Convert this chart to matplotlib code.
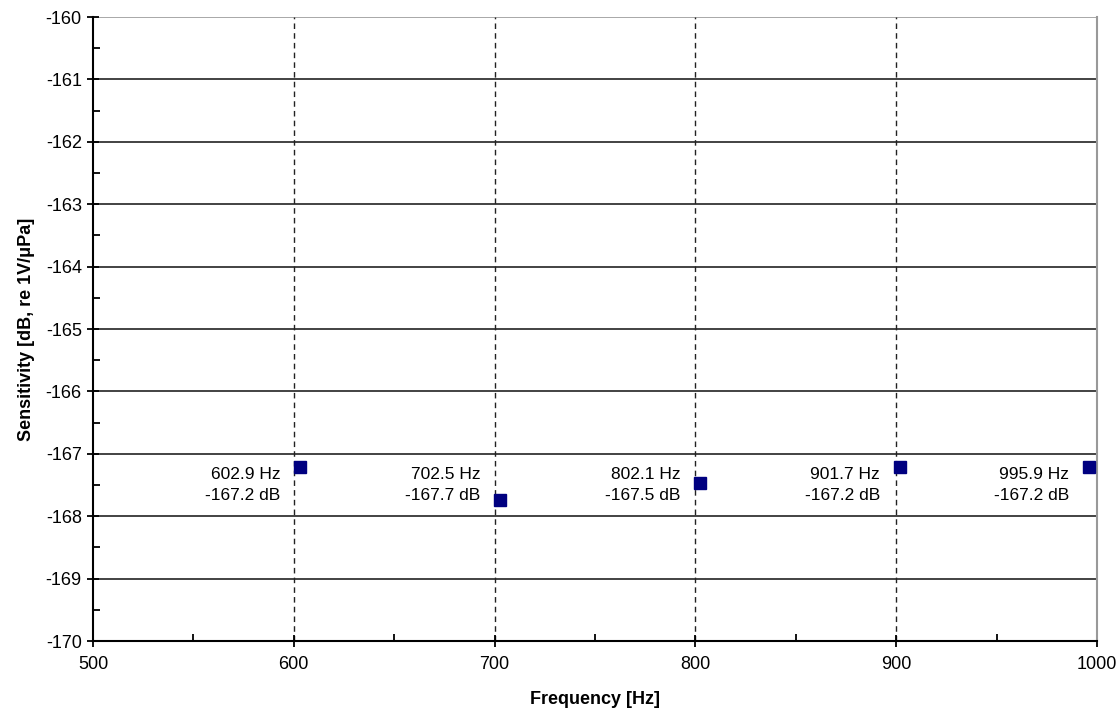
import numpy as np
import matplotlib.pyplot as plt
from matplotlib.ticker import MultipleLocator

plt.rcParams['font.family'] = ['Liberation Sans', 'DejaVu Sans']
plt.rcParams['axes.unicode_minus'] = False

# data
freq = [602.9, 702.5, 802.1, 901.7, 995.9]
sens = [-167.21, -167.74, -167.47, -167.21, -167.21]
freq_lbl = ['602.9 Hz', '702.5 Hz', '802.1 Hz', '901.7 Hz', '995.9 Hz']
sens_lbl = ['-167.2 dB', '-167.7 dB', '-167.5 dB', '-167.2 dB', '-167.2 dB']
vlines = [600, 700, 800, 900]

fig = plt.figure(figsize=(11.2, 7.12), dpi=100)
ax = fig.add_axes([0.083, 0.0997, 0.8965, 0.8763])

ax.set_xlim(500, 1000)
ax.set_ylim(-170, -160)
ax.xaxis.set_major_locator(MultipleLocator(100))
ax.xaxis.set_minor_locator(MultipleLocator(50))
ax.yaxis.set_major_locator(MultipleLocator(1))
ax.yaxis.set_minor_locator(MultipleLocator(0.5))

# horizontal grid
for yv in np.arange(-169, -160):
    ax.axhline(yv, color='#222222', lw=1.2, zorder=1)
ax.axhline(-160, color='#999999', lw=1.2, zorder=1)
for xv in vlines:
    ax.axvline(xv, color='#222222', lw=1.0, ls=(0, (4, 3)), zorder=1)

ax.plot(freq, sens, ls='none', marker='s', ms=8.5, color='#000080', zorder=3)

for f, a, b in zip(freq, freq_lbl, sens_lbl):
    ax.annotate(a + '\n' + b, xy=(f, -167.5), xytext=(-14, 0),
                textcoords='offset points', ha='right', va='center',
                fontsize=12.5, linespacing=1.45)

for s in ['left', 'bottom']:
    ax.spines[s].set_color('black')
    ax.spines[s].set_linewidth(1.5)
ax.spines['top'].set_visible(False)
ax.spines['right'].set_color('#999999')
ax.spines['right'].set_linewidth(1.5)

ax.tick_params(which='major', direction='inout', length=8, width=1.3, labelsize=13, pad=4)
ax.tick_params(axis='x', which='major', pad=7)
ax.tick_params(which='minor', direction='in', length=5, width=1.3)
ax.tick_params(axis='x', which='both', top=False)
ax.tick_params(axis='y', which='both', right=False)

ax.set_xlabel('Frequency [Hz]', fontsize=13, fontweight='bold', labelpad=13)
ax.set_ylabel('Sensitivity [dB, re 1V/\u03bcPa]', fontsize=13, fontweight='bold', labelpad=8)

fig.savefig('out.png', dpi=100)
